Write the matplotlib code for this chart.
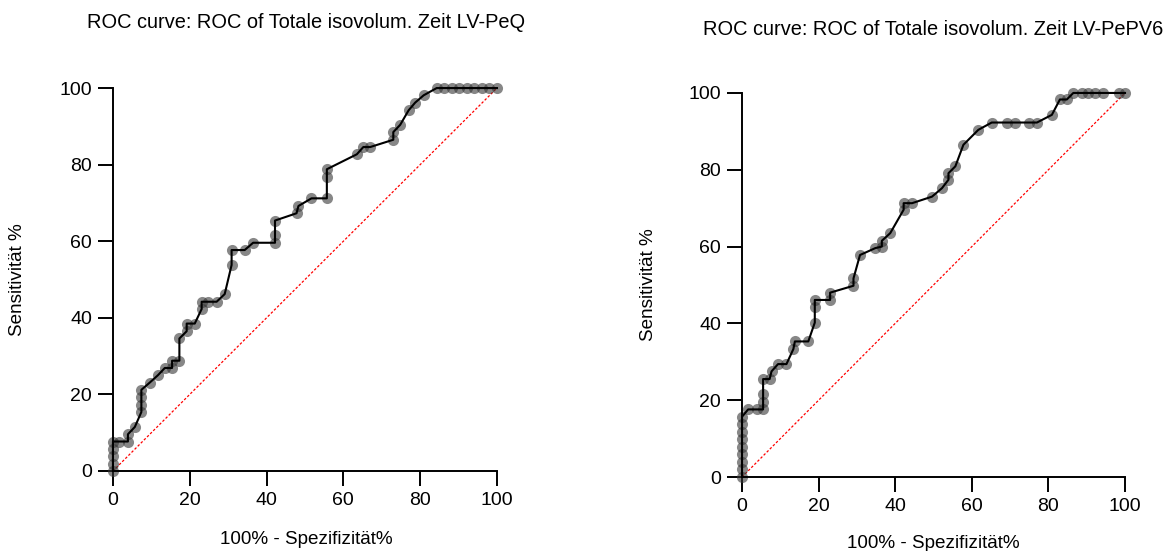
import matplotlib.pyplot as plt

plt.rcParams['font.family'] = ['Liberation Sans', 'DejaVu Sans']

# ROC LV-PeQ (100% - specificity, sensitivity)
peq_fpr = [0, 0, 0, 0, 0, 1.7, 3.9, 3.9, 5.7, 7.4, 7.4, 7.4, 7.4,
           9.6, 11.7, 13.5, 15.4, 15.4, 17.3, 17.3, 19.2, 19.2, 21.3,
           23.1, 23.1, 24.8, 27.0, 29.1, 30.9, 30.9, 34.3, 36.5, 42.2,
           42.2, 42.2, 47.8, 48.3, 51.7, 55.7, 55.7, 55.7, 63.5, 65.2,
           67.0, 73.0, 73.0, 74.8, 77.0, 78.7, 80.9, 84.3, 86.3, 88.2,
           90.2, 92.2, 94.1, 96.1, 98.0, 100]
peq_tpr = [0, 1.9, 3.8, 5.8, 7.7, 7.7, 7.7, 9.6, 11.5, 15.4, 17.3, 19.2, 21.2,
           23.1, 25.0, 26.9, 26.9, 28.8, 28.8, 34.6, 36.5, 38.5, 38.5,
           42.3, 44.2, 44.2, 44.2, 46.2, 53.8, 57.7, 57.7, 59.6, 59.6,
           61.5, 65.4, 67.3, 69.2, 71.2, 71.2, 76.9, 78.8, 82.7, 84.6,
           84.6, 86.5, 88.5, 90.4, 94.2, 96.2, 98.1, 100, 100, 100,
           100, 100, 100, 100, 100, 100]

# ROC LV-PePV6
pv6_fpr = [0, 0, 0, 0, 0, 0, 0, 0, 0, 1.6, 3.8, 5.5, 5.5, 5.5, 5.5,
           7.2, 7.7, 9.4, 11.6, 13.4, 13.8, 17.3, 19.0, 19.0, 19.0,
           23.0, 23.0, 29.1, 29.1, 30.8, 34.8, 36.5, 36.5, 38.7, 42.2,
           42.2, 44.4, 49.6, 52.2, 53.9, 53.9, 55.7, 57.8, 61.7, 65.2,
           69.1, 71.3, 74.8, 77.0, 80.9, 83.0, 84.8, 86.5, 88.7, 90.4,
           92.2, 94.3, 98.3, 100]
pv6_tpr = [0, 2.0, 3.9, 5.9, 7.8, 9.8, 11.8, 13.7, 15.7, 17.6, 17.6, 17.6,
           19.6, 21.6, 25.5, 25.5, 27.5, 29.4, 29.4, 33.3, 35.3, 35.3,
           40.2, 44.3, 46.1, 46.1, 48.0, 49.8, 51.7, 57.8, 59.6, 60.0,
           61.5, 63.5, 69.6, 71.3, 71.3, 73.0, 75.2, 77.4, 79.1, 80.9,
           86.5, 90.4, 92.3, 92.3, 92.3, 92.3, 92.3, 94.3, 98.3, 98.3,
           100, 100, 100, 100, 100, 100, 100]

titles = ['ROC curve: ROC of Totale isovolum. Zeit LV-PeQ',
          'ROC curve: ROC of Totale isovolum. Zeit LV-PePV6']
ticks = [0, 20, 40, 60, 80, 100]

fig = plt.figure(figsize=(11.68, 5.51), dpi=100)
ax1 = fig.add_axes([0.0967, 0.1452, 0.3288, 0.695])
ax2 = fig.add_axes([0.6353, 0.1343, 0.3279, 0.697])

for ax, fpr, tpr in [(ax1, peq_fpr, peq_tpr), (ax2, pv6_fpr, pv6_tpr)]:
    n = min(len(fpr), len(tpr))
    ax.plot([0, 100], [0, 100], color='red', lw=0.9, ls=(0, (2, 1.5)),
            clip_on=False, zorder=1)
    ax.plot(fpr[:n], tpr[:n], color='black', lw=1.5, clip_on=False, zorder=3)
    ax.plot(fpr[:n], tpr[:n], ls='none', marker='o', ms=8, mec='none',
            mfc='#383838', alpha=0.6, clip_on=False, zorder=2)
    ax.set_xlim(0, 100)
    ax.set_ylim(0, 100)
    ax.set_xticks(ticks)
    ax.set_yticks(ticks)
    for s in ['top', 'right']:
        ax.spines[s].set_visible(False)
    for s in ['left', 'bottom']:
        ax.spines[s].set_linewidth(1.4)
    ax.tick_params(length=11, width=1.4, labelsize=14, pad=4)

fs = 13.6
fig.text(0.262, 0.96, titles[0], ha='center', va='center', fontsize=14.4)
fig.text(0.799, 0.9456, titles[1], ha='center', va='center', fontsize=14.4)
fig.text(0.262, 0.02, '100% - Spezifizität%', ha='center', va='center', fontsize=fs)
fig.text(0.799, 0.0145, '100% - Spezifizität%', ha='center', va='center', fontsize=fs)
fig.text(0.0154, 0.492, 'Sensitivität %', ha='center', va='center', rotation=90, fontsize=fs)
fig.text(0.555, 0.483, 'Sensitivität %', ha='center', va='center', rotation=90, fontsize=fs)

fig.savefig('out.png', dpi=100)
